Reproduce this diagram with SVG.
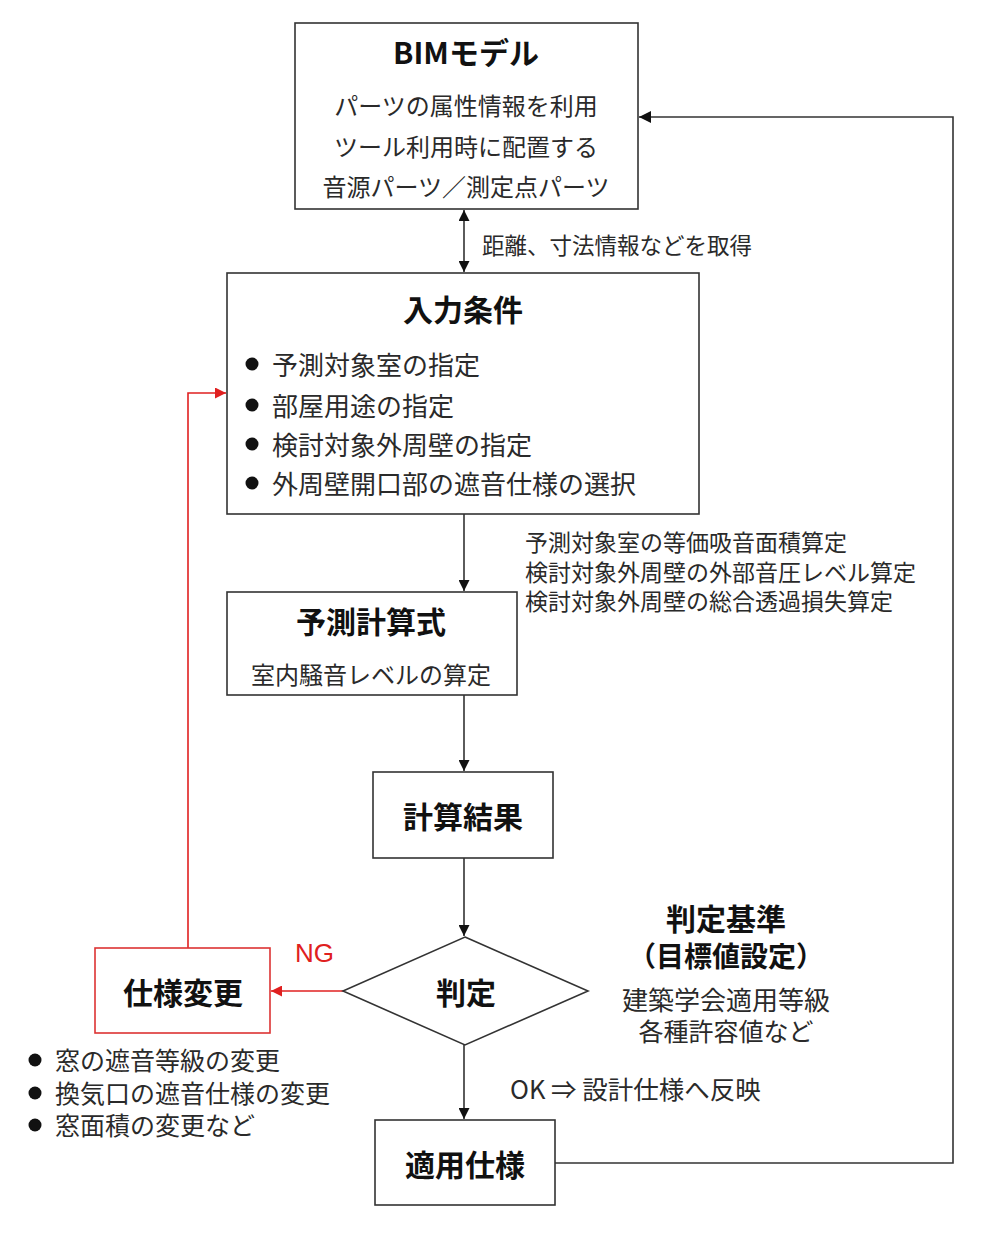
<svg xmlns="http://www.w3.org/2000/svg" width="1000" height="1237" viewBox="0 0 1000 1237">
<style>
text{font-family:"Noto Sans CJK JP","Liberation Sans",sans-serif;dominant-baseline:central;fill:#2a2a2a}
.t{font-weight:bold;font-size:30px;fill:#111;text-anchor:middle}
.b{font-size:24px}
.n{font-size:23px}
.c{text-anchor:middle}
.box{fill:#fff;stroke:#333;stroke-width:1.6}
.red{fill:#fff;stroke:#d33;stroke-width:1.6}
.ln{fill:none;stroke:#333;stroke-width:1.6}
.rl{fill:none;stroke:#e02020;stroke-width:1.6}
</style>
<defs>
<marker id="a" viewBox="0 0 10 10" refX="10" refY="5" markerWidth="14" markerHeight="11" markerUnits="userSpaceOnUse" orient="auto-start-reverse"><path d="M0,0 L10,5 L0,10 z" fill="#111"/></marker>
<marker id="ar" viewBox="0 0 10 10" refX="10" refY="5" markerWidth="14" markerHeight="11" markerUnits="userSpaceOnUse" orient="auto"><path d="M0,0 L10,5 L0,10 z" fill="#e02020"/></marker>
<marker id="aw" viewBox="0 0 10 10" refX="10" refY="5" markerWidth="18" markerHeight="12" markerUnits="userSpaceOnUse" orient="auto"><path d="M0,0 L10,5 L0,10 z" fill="#111"/></marker>
</defs>
<rect width="1000" height="1237" fill="#fff"/>
<g id="connectors">
<line class="ln" x1="464" y1="210" x2="464" y2="272" marker-start="url(#a)" marker-end="url(#a)" stroke-width="2.2"/>
<line class="ln" x1="464" y1="514" x2="464" y2="591" marker-end="url(#a)"/>
<line class="ln" x1="464" y1="695" x2="464" y2="771" marker-end="url(#a)"/>
<line class="ln" x1="464" y1="858" x2="464" y2="936" marker-end="url(#a)"/>
<line class="ln" x1="464" y1="1045" x2="464" y2="1119" marker-end="url(#a)"/>
<polyline class="ln" points="555,1163 953,1163 953,117 639,117" marker-end="url(#aw)"/>
<line class="rl" x1="343" y1="991" x2="271" y2="991" marker-end="url(#ar)"/>
<polyline class="rl" points="188,948 188,393 226,393" marker-end="url(#ar)"/>
<text x="482" y="244" style="font-size:22.5px">距離、寸法情報などを取得</text>
<text x="525" y="541" class="n">予測対象室の等価吸音面積算定</text>
<text x="525" y="571" class="n">検討対象外周壁の外部音圧レベル算定</text>
<text x="525" y="600" class="n">検討対象外周壁の総合透過損失算定</text>
<text x="295" y="953" style="font-size:26px;fill:#e02020;font-family:'Liberation Sans',sans-serif">NG</text>
<text x="510" y="1087" style="font-size:25.5px">OK ⇒ 設計仕様へ反映</text>
</g>
<g id="bim">
<rect class="box" x="295" y="23" width="343" height="186"/>
<text class="t" x="466" y="51">BIMモデル</text>
<text class="b c" x="466" y="104">パーツの属性情報を利用</text>
<text class="b c" x="466" y="145">ツール利用時に配置する</text>
<text class="b c" x="466" y="185">音源パーツ／測定点パーツ</text>
</g>
<g id="input">
<rect class="box" x="227" y="273" width="472" height="241"/>
<text class="t" x="463" y="308">入力条件</text>
<g style="font-size:26px">
<circle cx="252" cy="364" r="6.5" fill="#111"/><text x="272" y="363">予測対象室の指定</text>
<circle cx="252" cy="405" r="6.5" fill="#111"/><text x="272" y="404">部屋用途の指定</text>
<circle cx="252" cy="444" r="6.5" fill="#111"/><text x="272" y="443">検討対象外周壁の指定</text>
<circle cx="252" cy="483" r="6.5" fill="#111"/><text x="272" y="482">外周壁開口部の遮音仕様の選択</text>
</g>
</g>
<g id="formula">
<rect class="box" x="227" y="592" width="290" height="103"/>
<text class="t" x="371" y="620">予測計算式</text>
<text class="b c" x="371" y="673">室内騒音レベルの算定</text>
</g>
<g id="result">
<rect class="box" x="373" y="772" width="180" height="86"/>
<text class="t" x="463" y="815">計算結果</text>
</g>
<g id="judge">
<polygon class="box" points="465,937 588,991 465,1045 343,991"/>
<text class="t" x="466" y="991">判定</text>
</g>
<g id="criteria">
<text class="t" x="726" y="917">判定基準</text>
<text class="t" x="726" y="955" style="font-size:28px">（目標値設定）</text>
<text class="c" x="726" y="998" style="font-size:26px">建築学会適用等級</text>
<text class="c" x="726" y="1030" style="font-size:25px">各種許容値など</text>
</g>
<g id="change">
<rect class="red" x="95" y="948" width="175" height="85"/>
<text class="t" x="183" y="991">仕様変更</text>
<g style="font-size:25px">
<circle cx="35" cy="1060" r="6.5" fill="#111"/><text x="55" y="1059">窓の遮音等級の変更</text>
<circle cx="35" cy="1093" r="6.5" fill="#111"/><text x="55" y="1092">換気口の遮音仕様の変更</text>
<circle cx="35" cy="1125" r="6.5" fill="#111"/><text x="55" y="1124">窓面積の変更など</text>
</g>
</g>
<g id="applied">
<rect class="box" x="375" y="1120" width="180" height="85"/>
<text class="t" x="465" y="1163">適用仕様</text>
</g>
</svg>
